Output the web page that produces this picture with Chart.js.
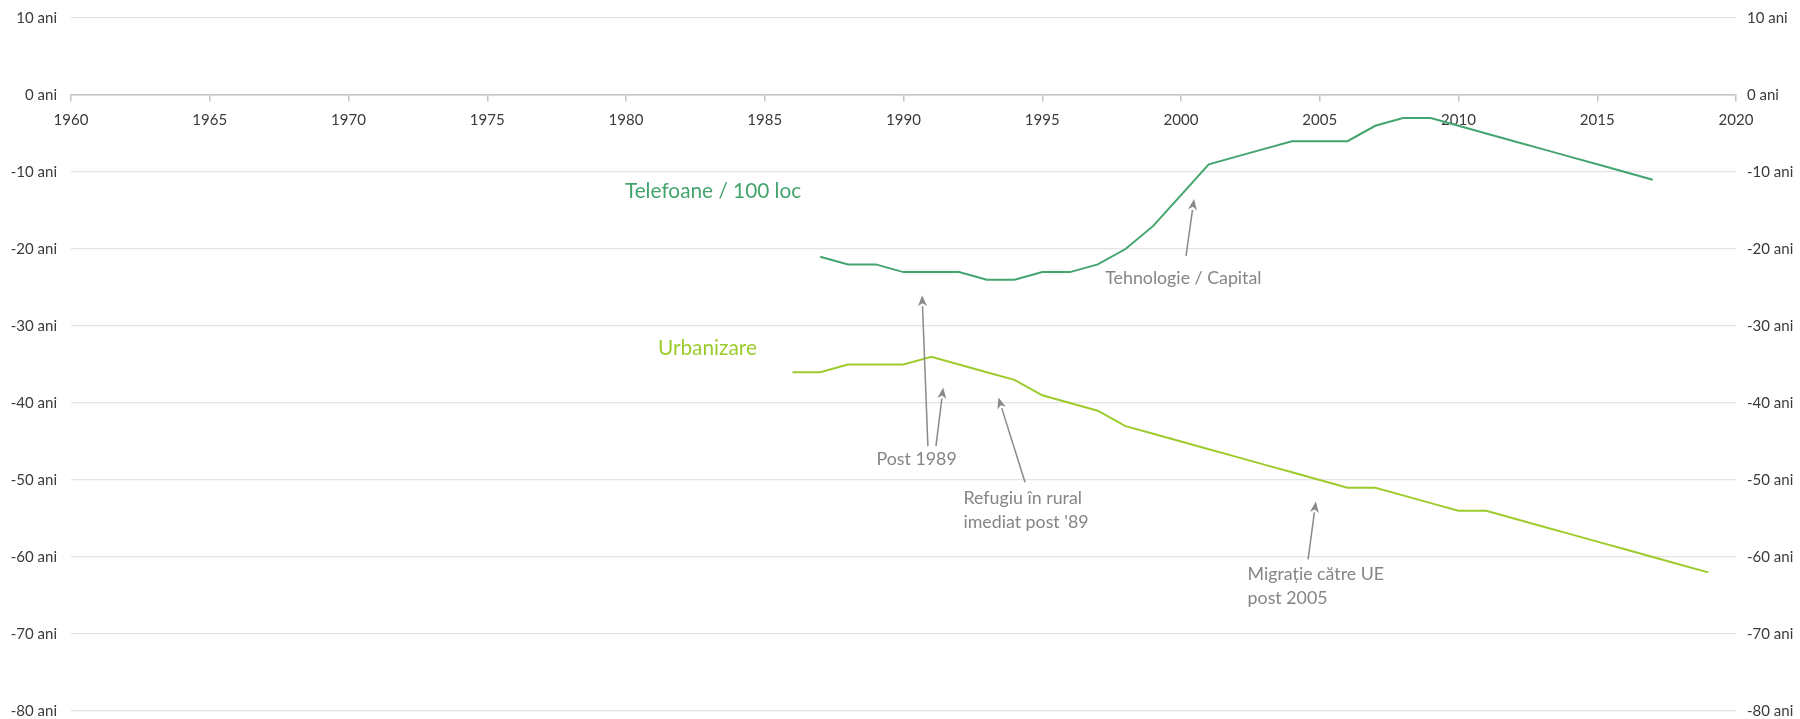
<!DOCTYPE html>
<html>
<head>
<meta charset="utf-8">
<script src="https://cdn.jsdelivr.net/npm/chart.js@4/dist/chart.umd.min.js"></script>
<style>
  html, body { margin: 0; padding: 0; background: #ffffff; }
  #wrap { width: 1800px; height: 719px; position: relative; }
</style>
</head>
<body>
<div id="wrap"><canvas id="chart"></canvas></div>
<script>
// years behind each series (x values)
const phoneYears = [
  1987, 1988, 1989, 1990, 1991, 1992, 1993, 1994, 1995, 1996, 1997, 1998,
  1999, 2000, 2001, 2002, 2003, 2004, 2005, 2006, 2007, 2008, 2009, 2010,
  2011, 2012, 2013, 2014, 2015, 2016, 2017
];
// Telefoane / 100 loc - gap in years
const phoneGap = [
  -21, -22, -22, -23, -23, -23, -24, -24, -23, -23, -22, -20,
  -17, -13, -9, -8, -7, -6, -6, -6, -4, -3, -3, -4,
  -5, -6, -7, -8, -9, -10, -11
];

const urbanYears = [
  1986, 1987, 1988, 1989, 1990, 1991, 1992, 1993, 1994, 1995, 1996, 1997,
  1998, 1999, 2000, 2001, 2002, 2003, 2004, 2005, 2006, 2007, 2008, 2009,
  2010, 2011, 2012, 2013, 2014, 2015, 2016, 2017, 2018, 2019
];
// Urbanizare - gap in years
const urbanGap = [
  -36, -36, -35, -35, -35, -34, -35, -36, -37, -39, -40, -41,
  -43, -44, -45, -46, -47, -48, -49, -50, -51, -51, -52, -53,
  -54, -54, -55, -56, -57, -58, -59, -60, -61, -62
];

const seriesLabels = ["Telefoane / 100 loc", "Urbanizare"];
const xTicks = { min: 1960, max: 2020, step: 5 };
const yTicks = { min: -80, max: 10, step: 10 };

// notes in chart units: [year, value]
const noteTexts = [
  { lines: ["Tehnologie / Capital"], at: [1997.27, -23.8] },
  { lines: ["Post 1989"], at: [1989.03, -47.3] },
  { lines: ["Refugiu în rural", "imediat post '89"], at: [1992.16, -52.4] },
  { lines: ["Migrație către UE", "post 2005"], at: [2002.4, -62.3] }
];
const noteArrows = [
  { from: [2000.18, -20.9], to: [2000.47, -13.5] },
  { from: [1990.88, -45.6], to: [1990.67, -26.0] },
  { from: [1991.17, -45.6], to: [1991.43, -38.0] },
  { from: [1994.38, -50.3], to: [1993.42, -39.3] },
  { from: [2004.58, -60.3], to: [2004.86, -52.8] }
];
const seriesTags = [
  { text: seriesLabels[0], at: [1979.96, -12.5], color: "#43a46d" },
  { text: seriesLabels[1], at: [1981.15, -32.9], color: "#9ccc2c" }
];

const FONT = "Lato, 'Open Sans', sans-serif";
const NOTE_GREY = "#8a8a8a";

const toPoints = (xs, ys) => xs.map((x, i) => ({ x, y: ys[i] }));

const notesPlugin = {
  id: "notes",
  afterDatasetsDraw(chart) {
    const { ctx, scales } = chart;
    const px = (p) => [scales.x.getPixelForValue(p[0]), scales.y.getPixelForValue(p[1])];
    ctx.save();

    // arrows
    ctx.strokeStyle = NOTE_GREY;
    ctx.fillStyle = NOTE_GREY;
    ctx.lineWidth = 1.5;
    noteArrows.forEach((a) => {
      const [x1, y1] = px(a.from);
      const [x2, y2] = px(a.to);
      const ang = Math.atan2(y2 - y1, x2 - x1);
      const len = 11, half = 4.5;
      const bx = x2 - len * Math.cos(ang);
      const by = y2 - len * Math.sin(ang);
      ctx.beginPath();
      ctx.moveTo(x1, y1);
      ctx.lineTo(bx, by);
      ctx.stroke();
      ctx.beginPath();
      ctx.moveTo(x2, y2);
      ctx.lineTo(bx + half * Math.sin(ang), by - half * Math.cos(ang));
      ctx.lineTo(x2 - (len - 3) * Math.cos(ang), y2 - (len - 3) * Math.sin(ang));
      ctx.lineTo(bx - half * Math.sin(ang), by + half * Math.cos(ang));
      ctx.closePath();
      ctx.fill();
    });

    // note texts
    ctx.textAlign = "left";
    ctx.textBaseline = "middle";
    ctx.font = "17.8px " + FONT;
    ctx.fillStyle = "#858585";
    noteTexts.forEach((n) => {
      const [x, y] = px(n.at);
      n.lines.forEach((line, i) => ctx.fillText(line, x, y + i * 24));
    });

    // series names
    ctx.font = "20.8px " + FONT;
    seriesTags.forEach((t) => {
      const [x, y] = px(t.at);
      ctx.fillStyle = t.color;
      ctx.fillText(t.text, x, y);
    });
    ctx.restore();
  }
};

const yTickStyle = {
  stepSize: yTicks.step,
  color: "#3a3a3a",
  font: { family: FONT, size: 15 },
  callback: (v) => v + " ani"
};

// fixed side widths; the end labels may hang over the plot edges
function fitSide(width) {
  return (scale) => {
    scale.width = width;
    scale.paddingTop = 0;
    scale.paddingBottom = 0;
  };
}

new Chart(document.getElementById("chart"), {
  type: "line",
  data: {
    datasets: [
      {
        label: seriesLabels[0],
        data: toPoints(phoneYears, phoneGap),
        borderColor: "#43a46d",
        borderWidth: 2,
        pointRadius: 0,
        tension: 0
      },
      {
        label: seriesLabels[1],
        data: toPoints(urbanYears, urbanGap),
        borderColor: "#9ccc2c",
        borderWidth: 2,
        pointRadius: 0,
        tension: 0
      }
    ]
  },
  options: {
    responsive: true,
    maintainAspectRatio: false,
    animation: false,
    layout: { padding: { top: 18, bottom: 8, left: 0, right: 0 } },
    plugins: {
      legend: { display: false },
      tooltip: { enabled: false }
    },
    scales: {
      x: {
        type: "linear",
        position: { y: 0 },
        min: xTicks.min,
        max: xTicks.max,
        border: { display: true, color: "#c4c4c4", width: 1.5 },
        grid: {
          drawOnChartArea: false,
          drawTicks: true,
          tickLength: 6,
          color: "#c4c4c4",
          lineWidth: 1.5
        },
        ticks: {
          stepSize: xTicks.step,
          padding: 10,
          maxRotation: 0,
          color: "#3a3a3a",
          font: { family: FONT, size: 15 },
          callback: (v) => String(v)
        }
      },
      y: {
        position: "left",
        min: yTicks.min,
        max: yTicks.max,
        border: { display: false },
        grid: { color: "#e4e4e4", lineWidth: 1.2, drawTicks: false },
        ticks: { ...yTickStyle, padding: 14 },
        afterFit: fitSide(71)
      },
      y2: {
        position: "right",
        min: yTicks.min,
        max: yTicks.max,
        border: { display: false },
        grid: { drawOnChartArea: false, drawTicks: false },
        ticks: { ...yTickStyle, padding: 11 },
        afterFit: fitSide(64)
      }
    }
  },
  plugins: [notesPlugin]
});
</script>
</body>
</html>
